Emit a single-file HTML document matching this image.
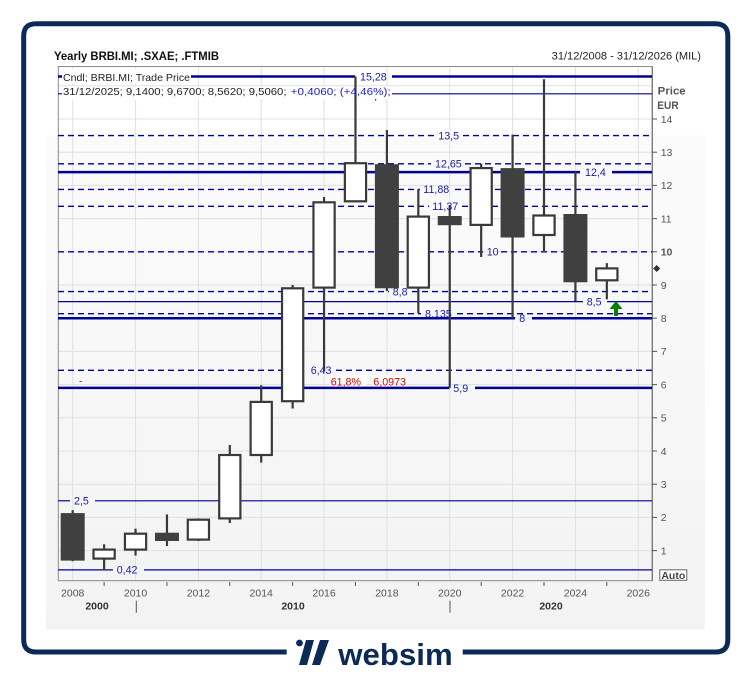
<!DOCTYPE html>
<html><head><meta charset="utf-8">
<style>
html,body{margin:0;padding:0;background:#fff;}
svg{display:block;}
text{font-family:"Liberation Sans",Arial,sans-serif;}
</style></head>
<body>
<svg width="751" height="676" viewBox="0 0 751 676" xmlns="http://www.w3.org/2000/svg">
<defs>
<linearGradient id="pg" x1="0" y1="0" x2="0" y2="1">
<stop offset="0" stop-color="#ffffff"/>
<stop offset="0.16" stop-color="#ffffff"/>
<stop offset="0.165" stop-color="#fbfbfb"/>
<stop offset="1" stop-color="#f3f3f3"/>
</linearGradient>
</defs>
<rect x="0" y="0" width="751" height="676" fill="#fff"/>
<!-- panel -->
<rect x="46" y="40" width="659" height="589.5" fill="url(#pg)"/>

<!-- grid -->
<g stroke="#e0e0e0" stroke-width="1">
<line x1="72.7" y1="67" x2="72.7" y2="580.7"/>
<line x1="135.54" y1="67" x2="135.54" y2="580.7"/>
<line x1="198.38" y1="67" x2="198.38" y2="580.7"/>
<line x1="261.22" y1="67" x2="261.22" y2="580.7"/>
<line x1="324.06" y1="67" x2="324.06" y2="580.7"/>
<line x1="386.9" y1="67" x2="386.9" y2="580.7"/>
<line x1="449.74" y1="67" x2="449.74" y2="580.7"/>
<line x1="512.58" y1="67" x2="512.58" y2="580.7"/>
<line x1="575.42" y1="67" x2="575.42" y2="580.7"/>
<line x1="638.26" y1="67" x2="638.26" y2="580.7"/>
<line x1="58" y1="85.8" x2="652" y2="85.8"/>
<line x1="58" y1="119" x2="652" y2="119"/>
<line x1="58" y1="152.2" x2="652" y2="152.2"/>
<line x1="58" y1="185.4" x2="652" y2="185.4"/>
<line x1="58" y1="218.6" x2="652" y2="218.6"/>
<line x1="58" y1="251.8" x2="652" y2="251.8"/>
<line x1="58" y1="285" x2="652" y2="285"/>
<line x1="58" y1="318.2" x2="652" y2="318.2"/>
<line x1="58" y1="351.4" x2="652" y2="351.4"/>
<line x1="58" y1="384.6" x2="652" y2="384.6"/>
<line x1="58" y1="417.8" x2="652" y2="417.8"/>
<line x1="58" y1="451" x2="652" y2="451"/>
<line x1="58" y1="484.2" x2="652" y2="484.2"/>
<line x1="58" y1="517.4" x2="652" y2="517.4"/>
<line x1="58" y1="550.6" x2="652" y2="550.6"/>
</g>

<!-- plot frame -->
<rect x="58.3" y="66.5" width="594" height="514.2" fill="none" stroke="#8a8a8a" stroke-width="1"/>
<line x1="652.3" y1="66.5" x2="652.3" y2="581" stroke="#777" stroke-width="1.3"/>

<!-- horizontal level lines -->
<g stroke="#000099" fill="none">
<!-- thick -->
<g stroke-width="2.5">
<line x1="58" y1="76.5" x2="355" y2="76.5"/>
<line x1="392" y1="76.5" x2="652" y2="76.5"/>
<line x1="58" y1="172.1" x2="580" y2="172.1"/>
<line x1="612" y1="172.1" x2="652" y2="172.1"/>
<line x1="58" y1="318.2" x2="515" y2="318.2"/>
<line x1="532" y1="318.2" x2="652" y2="318.2"/>
<line x1="58" y1="387.9" x2="449.5" y2="387.9"/>
<line x1="475" y1="387.9" x2="652" y2="387.9"/>
</g>
<!-- thin -->
<g stroke-width="1.2">
<line x1="58" y1="93.8" x2="652" y2="93.8"/>
<line x1="58" y1="301.6" x2="583" y2="301.6"/>
<line x1="607" y1="301.6" x2="652" y2="301.6"/>
<line x1="58" y1="500.8" x2="70" y2="500.8"/>
<line x1="95" y1="500.8" x2="652" y2="500.8"/>
<line x1="58" y1="569.9" x2="113" y2="569.9"/>
<line x1="144" y1="569.9" x2="652" y2="569.9"/>
</g>
<!-- dashed -->
<g stroke-width="1.4" stroke-dasharray="6,4">
<line x1="58" y1="135.6" x2="434" y2="135.6"/>
<line x1="463" y1="135.6" x2="652" y2="135.6"/>
<line x1="58" y1="163.8" x2="431" y2="163.8"/>
<line x1="465" y1="163.8" x2="652" y2="163.8"/>
<line x1="58" y1="189.4" x2="420" y2="189.4"/>
<line x1="455" y1="189.4" x2="652" y2="189.4"/>
<line x1="58" y1="206.3" x2="429" y2="206.3"/>
<line x1="462" y1="206.3" x2="652" y2="206.3"/>
<line x1="58" y1="251.8" x2="483" y2="251.8"/>
<line x1="501" y1="251.8" x2="652" y2="251.8"/>
<line x1="58" y1="291.6" x2="389" y2="291.6"/>
<line x1="412" y1="291.6" x2="652" y2="291.6"/>
<line x1="58" y1="313.7" x2="421" y2="313.7"/>
<line x1="457" y1="313.7" x2="652" y2="313.7"/>
<line x1="58" y1="370.3" x2="307" y2="370.3"/>
<line x1="336" y1="370.3" x2="652" y2="370.3"/>
</g>
</g>

<!-- legend backgrounds -->
<rect x="62" y="69" width="129" height="14.5" fill="#fff"/>
<rect x="62" y="86.5" width="330" height="13" fill="#fff"/>

<!-- candles: wicks -->
<g stroke="#3a3a3a" stroke-width="2.2">
<line x1="72.7" y1="510.1" x2="72.7" y2="561.2"/>
<line x1="104.12" y1="544.3" x2="104.12" y2="569.9"/>
<line x1="135.54" y1="528.7" x2="135.54" y2="555.6"/>
<line x1="166.96" y1="514.4" x2="166.96" y2="546"/>
<line x1="198.38" y1="518.4" x2="198.38" y2="541"/>
<line x1="229.8" y1="445" x2="229.8" y2="523"/>
<line x1="261.22" y1="385.3" x2="261.22" y2="462.6"/>
<line x1="292.64" y1="285" x2="292.64" y2="408.5"/>
<line x1="324.06" y1="197" x2="324.06" y2="371"/>
<line x1="355.48" y1="76.5" x2="355.48" y2="201.3"/>
<line x1="386.9" y1="130" x2="386.9" y2="291"/>
<line x1="418.32" y1="189.1" x2="418.32" y2="313.2"/>
<line x1="449.74" y1="205.3" x2="449.74" y2="387.9"/>
<line x1="481.16" y1="163.8" x2="481.16" y2="257"/>
<line x1="512.58" y1="134.6" x2="512.58" y2="318.2"/>
<line x1="544" y1="79.3" x2="544" y2="252"/>
<line x1="575.42" y1="171.5" x2="575.42" y2="301"/>
<line x1="606.84" y1="263.1" x2="606.84" y2="299.3"/>
</g>
<!-- dark bodies -->
<g fill="#404040">
<rect x="60.7" y="513.1" width="24" height="47.5"/>
<rect x="154.96" y="532.7" width="24" height="8.3"/>
<rect x="374.9" y="164.2" width="24" height="124.1"/>
<rect x="437.74" y="216" width="24" height="9.2"/>
<rect x="500.58" y="168.1" width="24" height="69.4"/>
<rect x="563.42" y="214" width="24" height="68.3"/>
</g>
<!-- hollow bodies -->
<g fill="#fff" stroke="#3a3a3a" stroke-width="2.2">
<rect x="93.52" y="549.6" width="21.2" height="9"/>
<rect x="124.94" y="533.7" width="21.2" height="15.9"/>
<rect x="187.78" y="519.7" width="21.2" height="19.9"/>
<rect x="219.2" y="455" width="21.2" height="63.4"/>
<rect x="250.62" y="401.9" width="21.2" height="53.1"/>
<rect x="282.04" y="288.3" width="21.2" height="112.9"/>
<rect x="313.46" y="202.3" width="21.2" height="85.3"/>
<rect x="344.88" y="163.2" width="21.2" height="38.1"/>
<rect x="407.72" y="216.6" width="21.2" height="71"/>
<rect x="470.56" y="168.1" width="21.2" height="56.8"/>
<rect x="533.4" y="215.5" width="21.2" height="19.5"/>
<rect x="596.24" y="268.4" width="21.2" height="11.9"/>
</g>

<!-- level labels -->
<g fill="#1c1ca8" font-size="10.7">
<text x="360" y="80.3">15,28</text>
<text x="438.3" y="139.4">13,5</text>
<text x="435" y="167.6">12,65</text>
<text x="585" y="175.9">12,4</text>
<text x="423.3" y="193.2">11,88</text>
<text x="432.3" y="210.1">11,37</text>
<text x="486.7" y="255.6">10</text>
<text x="392.7" y="295.4">8,8</text>
<text x="586.7" y="305.4">8,5</text>
<text x="425" y="317.5">8,135</text>
<text x="519.3" y="322">8</text>
<text x="310.7" y="374.1">6,43</text>
<text x="453.3" y="392">5,9</text>
<text x="74" y="504.6">2,5</text>
<text x="116.7" y="573.7">0,42</text>
</g>
<rect x="329" y="375" width="37.5" height="11.5" fill="#fff"/>
<rect x="372" y="375" width="36" height="11.5" fill="#fff"/>
<text x="330.7" y="385.5" font-size="10.7" fill="#e00000">61,8%</text>
<text x="373.3" y="385.5" font-size="10.7" fill="#e00000">6,0973</text>
<rect x="79.5" y="381" width="2" height="1" fill="#e00000"/>
<rect x="375" y="99" width="1.2" height="1.5" fill="#1a1adc"/>

<!-- green arrow -->
<g fill="#0a7d0a">
<polygon points="609.5,309 622.5,309 616,301"/>
<rect x="614" y="308" width="4" height="8"/>
</g>

<!-- legend text -->
<text x="63" y="80.8" font-size="10.5" fill="#222" textLength="127" lengthAdjust="spacingAndGlyphs">Cndl; BRBI.MI; Trade Price</text>
<text x="63" y="95.2" font-size="10.5" fill="#222" textLength="223.5" lengthAdjust="spacingAndGlyphs">31/12/2025; 9,1400; 9,6700; 8,5620; 9,5060;</text>
<text x="290.7" y="95.2" font-size="10.5" fill="#1a1adc" textLength="100" lengthAdjust="spacingAndGlyphs">+0,4060; (+4,46%);</text>

<!-- title -->
<text x="54" y="60.2" font-size="11.5" font-weight="bold" fill="#111" textLength="165" lengthAdjust="spacingAndGlyphs">Yearly BRBI.MI; .SXAE; .FTMIB</text>
<text x="551.7" y="59.5" font-size="11" fill="#222" textLength="149.3" lengthAdjust="spacingAndGlyphs">31/12/2008 - 31/12/2026 (MIL)</text>

<!-- right axis -->
<text x="657.7" y="94.3" font-size="11" font-weight="bold" fill="#555" textLength="28" lengthAdjust="spacingAndGlyphs">Price</text>
<text x="657.3" y="109" font-size="11" font-weight="bold" fill="#555" textLength="21.4" lengthAdjust="spacingAndGlyphs">EUR</text>
<g stroke="#555" stroke-width="1">
<line x1="652" y1="119" x2="657" y2="119"/>
<line x1="652" y1="152.2" x2="657" y2="152.2"/>
<line x1="652" y1="185.4" x2="657" y2="185.4"/>
<line x1="652" y1="218.6" x2="657" y2="218.6"/>
<line x1="652" y1="251.8" x2="657" y2="251.8"/>
<line x1="652" y1="285" x2="657" y2="285"/>
<line x1="652" y1="318.2" x2="657" y2="318.2"/>
<line x1="652" y1="351.4" x2="657" y2="351.4"/>
<line x1="652" y1="384.6" x2="657" y2="384.6"/>
<line x1="652" y1="417.8" x2="657" y2="417.8"/>
<line x1="652" y1="451" x2="657" y2="451"/>
<line x1="652" y1="484.2" x2="657" y2="484.2"/>
<line x1="652" y1="517.4" x2="657" y2="517.4"/>
<line x1="652" y1="550.6" x2="657" y2="550.6"/>
</g>
<g font-size="10.5" fill="#555">
<text x="660.7" y="122.8">14</text>
<text x="660.7" y="156">13</text>
<text x="660.7" y="189.2">12</text>
<text x="660.7" y="222.4">11</text>
<text x="660.7" y="255.6" font-weight="bold">10</text>
<text x="660.7" y="288.8">9</text>
<text x="660.7" y="322">8</text>
<text x="660.7" y="355.2">7</text>
<text x="660.7" y="388.4">6</text>
<text x="660.7" y="421.6">5</text>
<text x="660.7" y="454.8">4</text>
<text x="660.7" y="488">3</text>
<text x="660.7" y="521.2">2</text>
<text x="660.7" y="554.4">1</text>
</g>
<polygon points="656.7,265 660.2,268.5 656.7,272 653.2,268.5" fill="#333"/>
<rect x="659.8" y="569.8" width="27" height="10.5" fill="#fff" stroke="#666" stroke-width="1"/>
<text x="673.3" y="578.9" font-size="10.5" font-weight="bold" fill="#444" text-anchor="middle">Auto</text>

<!-- x axis ticks -->
<g stroke="#555" stroke-width="1">
<line x1="104.12" y1="582" x2="104.12" y2="586"/>
<line x1="166.96" y1="582" x2="166.96" y2="586"/>
<line x1="229.8" y1="582" x2="229.8" y2="586"/>
<line x1="292.64" y1="582" x2="292.64" y2="586"/>
<line x1="355.48" y1="582" x2="355.48" y2="586"/>
<line x1="418.32" y1="582" x2="418.32" y2="586"/>
<line x1="481.16" y1="582" x2="481.16" y2="586"/>
<line x1="544" y1="582" x2="544" y2="586"/>
<line x1="606.84" y1="582" x2="606.84" y2="586"/>
<line x1="136.3" y1="600.7" x2="136.3" y2="612.7"/>
<line x1="450" y1="600.7" x2="450" y2="612.7"/>
</g>
<g font-size="10.5" fill="#555" text-anchor="middle">
<text x="72.7" y="596.6">2008</text>
<text x="135.54" y="596.6">2010</text>
<text x="198.38" y="596.6">2012</text>
<text x="261.22" y="596.6">2014</text>
<text x="324.06" y="596.6">2016</text>
<text x="386.9" y="596.6">2018</text>
<text x="449.74" y="596.6">2020</text>
<text x="512.58" y="596.6">2022</text>
<text x="575.42" y="596.6">2024</text>
<text x="638.26" y="596.6">2026</text>
</g>
<g font-size="10.5" font-weight="bold" fill="#333" text-anchor="middle">
<text x="97" y="609.3">2000</text>
<text x="293" y="609.3">2010</text>
<text x="551" y="609.3">2020</text>
</g>

<!-- outer frame -->
<path d="M286.7,652 L36,652 Q23.7,652 23.7,639.7 L23.7,36 Q23.7,23.7 36,23.7 L715.5,23.7 Q727.8,23.7 727.8,36 L727.8,639.7 Q727.8,652 715.5,652 L462.7,652" fill="none" stroke="#0c2a58" stroke-width="5"/>

<!-- websim logo -->
<circle cx="299.5" cy="643" r="3.4" fill="#0c2a58"/>
<polygon points="306,640 314,640 307,665 299,665" fill="#0c2a58"/>
<polygon points="320,640 329,640 320,665 312,665" fill="#0c2a58"/>
<text x="338.3" y="665" font-size="31" font-weight="bold" fill="#0c2a58" textLength="114.4" lengthAdjust="spacingAndGlyphs">websim</text>
</svg>
</body></html>
